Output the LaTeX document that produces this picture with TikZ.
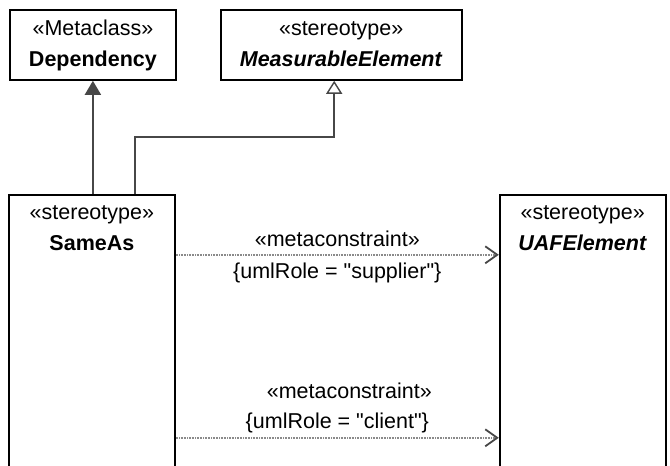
\documentclass[tikz,border=0pt]{standalone}
\usepackage{fontspec}
\setmainfont{Liberation Sans}[Ligatures=TeXOff]
\usetikzlibrary{positioning,arrows.meta}

\definecolor{linegray}{HTML}{474747}
\definecolor{dotgray}{HTML}{8A8A8A}

\begin{document}
\begin{tikzpicture}[
  x=1pt, y=1pt,
  node distance=43pt and 43pt,
  umlclass/.style={draw,line width=1.8pt,rectangle,inner sep=0pt,minimum height=70pt},
  umlname/.style={anchor=north,align=center,inner sep=0pt,
    font=\fontsize{21.5}{30.7}\selectfont},
  umllabel/.style={inner sep=0pt,anchor=base,font=\fontsize{21.5}{24}\selectfont},
  generalize/.style={draw=linegray,line width=1.8pt,-{Triangle[open,width=16pt,length=13pt,line width=1.4pt]}},
  extends/.style={draw=linegray,line width=1.8pt,-{Triangle[width=16pt,length=14pt]}},
  metaconstr/.style={draw=dotgray,line width=1.5pt,dash pattern=on 1pt off 0.6pt,
    -{Straight Barb[length=12pt,width=17pt,line width=1.8pt,color=linegray]}}
]
\useasboundingbox (0,0) rectangle (670,-466);

% class boxes
\node[umlclass,minimum width=166pt,anchor=north west] (dep) at (9,-9) {};
\node[umlclass,minimum width=241pt,right=of dep] (meas) {};
\node[umlclass,minimum width=166pt,minimum height=300pt,
  below=113pt of dep.south west,anchor=north west,xshift=-1pt] (sameas) {};
\node[umlclass,minimum width=166pt,minimum height=300pt,right=323pt of sameas] (uaf) {};

% class texts
\node[umlname] (depT) at ([yshift=-5pt]dep.north) {\strut«Metaclass»\\\textbf{Dependency}};
\node[umlname] (measT) at ([yshift=-5pt]meas.north) {\strut«stereotype»\\\textbf{\textit{MeasurableElement}}};
\node[umlname] (sameasT) at ([yshift=-4pt]sameas.north) {\strut«stereotype»\\\textbf{SameAs}};
\node[umlname] (uafT) at ([yshift=-4pt]uaf.north) {\strut«stereotype»\\\textbf{\textit{UAFElement}}};

% generalizations
\draw[extends] (sameas.north -| dep.south) -- (dep.south);
\draw[generalize] ([xshift=43pt]sameas.north) -- ++(0,57) -| ([xshift=-7pt]meas.south);

% metaconstraints
\draw[metaconstr] ([yshift=-61pt]sameas.north east) -- ([yshift=-61pt]uaf.north west)
  node[umllabel,pos=.5,yshift=8pt] (supS) {«metaconstraint»}
  node[umllabel,pos=.5,yshift=-24pt] (supR) {\{umlRole = "supplier"\}};
\draw[metaconstr] ([yshift=-244pt]sameas.north east) -- ([yshift=-244pt]uaf.north west)
  node[umllabel,pos=.5,yshift=39pt,xshift=12pt] (cliS) {«metaconstraint»}
  node[umllabel,pos=.5,yshift=9pt] (cliR) {\{umlRole = "client"\}};
\end{tikzpicture}
\end{document}
